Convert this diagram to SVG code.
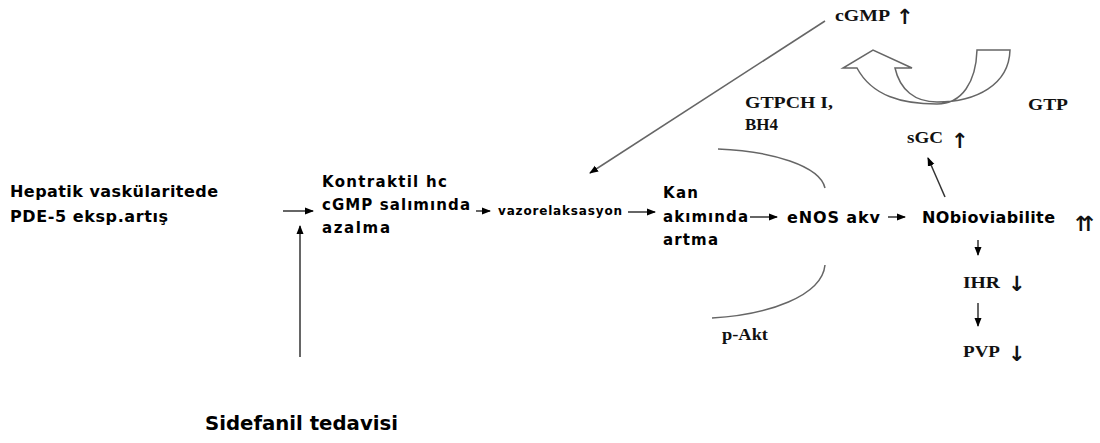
<svg xmlns="http://www.w3.org/2000/svg" width="1100" height="443" viewBox="0 0 1100 443">
<style>
.b{font-family:"DejaVu Sans","Liberation Sans",sans-serif;font-weight:bold;fill:#000}
.s{font-family:"Liberation Serif","DejaVu Serif",serif;font-weight:bold;fill:#111}
.ar{font-family:"DejaVu Sans","Liberation Sans",sans-serif;font-weight:bold;fill:#111;font-size:21px}
.c{stroke:#333;stroke-width:1.5;fill:none}
.g{stroke:#666;stroke-width:1.5;fill:none}
</style>
<defs>
<marker id="ah" markerUnits="userSpaceOnUse" markerWidth="9" markerHeight="8" refX="8" refY="4" orient="auto">
<path d="M0,0.5 L9,4 L0,7.5 Z" fill="#000"/>
</marker>
</defs>
<rect width="1100" height="443" fill="#fff"/>

<g id="connectors">
<line class="c" x1="283" y1="211" x2="313" y2="211" marker-end="url(#ah)"/>
<line class="c" x1="300" y1="357" x2="300" y2="226" marker-end="url(#ah)"/>
<line class="c" x1="476" y1="211" x2="490" y2="211" marker-end="url(#ah)"/>
<line class="c" x1="628" y1="212" x2="655" y2="212" marker-end="url(#ah)"/>
<line class="c" x1="750" y1="217" x2="777" y2="217" marker-end="url(#ah)"/>
<line class="c" x1="888" y1="217" x2="905" y2="217" marker-end="url(#ah)"/>
<line class="c" x1="945" y1="197" x2="928" y2="158" marker-end="url(#ah)"/>
<line class="g" x1="825" y1="21" x2="590" y2="173" marker-end="url(#ah)"/>
<line class="c" x1="978" y1="240" x2="978" y2="255" marker-end="url(#ah)"/>
<line class="c" x1="978" y1="303" x2="978" y2="326" marker-end="url(#ah)"/>
<path class="g" d="M718,149 C772,151 820,166 825,188"/>
<path class="g" d="M712,318 C768,315 822,296 825,265"/>
</g>

<g id="curved-arrow">
<path class="g" d="M857,68 C872,96 902,104 937,104 C962,104 976,82 977,50 L1010,50 C1009,85 976,102 937,102 C915,102 900,90 895,68 L912,68 L873,50 L843,68 Z"/>
</g>

<g id="hepatik">
<text class="b" x="10" y="197" font-size="16" textLength="208" lengthAdjust="spacing">Hepatik vaskülaritede</text>
<text class="b" x="10" y="222" font-size="16" textLength="158" lengthAdjust="spacing">PDE-5 eksp.artış</text>
</g>
<g id="kontraktil">
<text class="b" x="322" y="187" font-size="15" textLength="125" lengthAdjust="spacing">Kontraktil hc</text>
<text class="b" x="322" y="210" font-size="15" textLength="148" lengthAdjust="spacing">cGMP salımında</text>
<text class="b" x="322" y="233" font-size="15" textLength="68" lengthAdjust="spacing">azalma</text>
</g>
<g id="vazorelaksasyon">
<text class="b" x="498" y="215" font-size="12" textLength="124" lengthAdjust="spacing">vazorelaksasyon</text>
</g>
<g id="kan">
<text class="b" x="663" y="198" font-size="15" textLength="35" lengthAdjust="spacing">Kan</text>
<text class="b" x="663" y="222" font-size="15" textLength="85" lengthAdjust="spacing">akımında</text>
<text class="b" x="663" y="245" font-size="15" textLength="55" lengthAdjust="spacing">artma</text>
</g>
<g id="enos">
<text class="b" x="787" y="223" font-size="16" textLength="93" lengthAdjust="spacing">eNOS akv</text>
</g>
<g id="nobioviabilite">
<text class="b" x="922" y="223" font-size="16" textLength="133" lengthAdjust="spacing">NObioviabilite</text>
<text class="ar" x="1072" y="231" letter-spacing="-10">↑↑</text>
</g>
<g id="cgmp">
<text class="s" x="835" y="21" font-size="16.5" textLength="55" lengthAdjust="spacingAndGlyphs">cGMP</text>
<text class="ar" x="896" y="24">↑</text>
</g>
<g id="gtpch">
<text class="s" x="745" y="108" font-size="17" textLength="88" lengthAdjust="spacingAndGlyphs">GTPCH I,</text>
<text class="s" x="745" y="130" font-size="17" textLength="33" lengthAdjust="spacingAndGlyphs">BH4</text>
</g>
<g id="gtp">
<text class="s" x="1028" y="110" font-size="17" textLength="40" lengthAdjust="spacingAndGlyphs">GTP</text>
</g>
<g id="sgc">
<text class="s" x="907" y="143" font-size="16.5" textLength="36" lengthAdjust="spacingAndGlyphs">sGC</text>
<text class="ar" x="951" y="148">↑</text>
</g>
<g id="ihr">
<text class="s" x="963" y="288" font-size="16.5" textLength="37" lengthAdjust="spacingAndGlyphs">IHR</text>
<text class="ar" x="1008" y="291">↓</text>
</g>
<g id="pvp">
<text class="s" x="963" y="357" font-size="16.5" textLength="37" lengthAdjust="spacingAndGlyphs">PVP</text>
<text class="ar" x="1008" y="361">↓</text>
</g>
<g id="pakt">
<text class="s" x="722" y="340" font-size="16.5" textLength="46" lengthAdjust="spacingAndGlyphs">p-Akt</text>
</g>
<g id="sidefanil">
<text class="b" x="205" y="430" font-size="19" textLength="193" lengthAdjust="spacingAndGlyphs">Sidefanil tedavisi</text>
</g>
</svg>
